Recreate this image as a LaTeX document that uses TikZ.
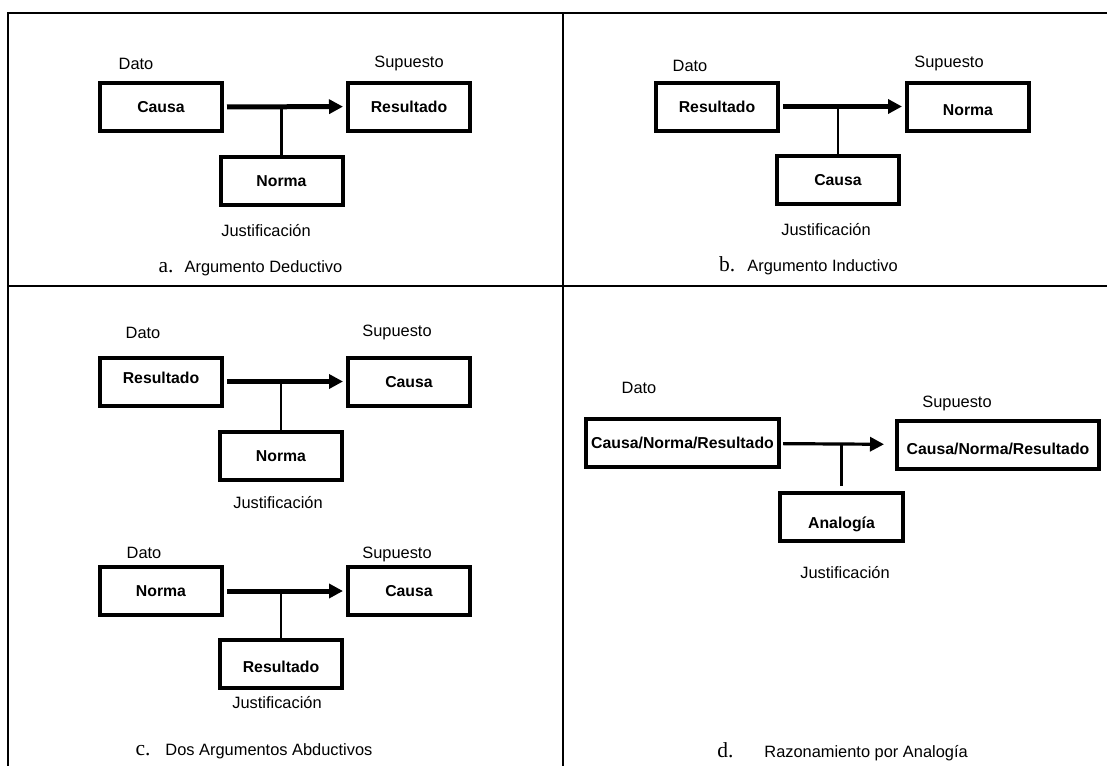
\documentclass[tikz,border=0pt]{standalone}
\usepackage{fontspec}
\setmainfont{Liberation Sans}
\newfontfamily\capserif{Liberation Serif}
\usetikzlibrary{arrows.meta}

\begin{document}
\begin{tikzpicture}[x=1pt, y=-1pt,
  box/.style={draw, rectangle, line width=4pt, minimum width=122pt, minimum height=48pt,
    inner sep=2pt, text height=11.3pt, text depth=0pt, font=\fontsize{15.8}{18}\selectfont\bfseries},
  lbl/.style={inner sep=0pt, font=\fontsize{16.4}{19}\selectfont},
  flow/.style={line width=5pt, -{Triangle[length=14pt, width=14pt]}, shorten <=3pt, shorten >=3pt},
  link/.style={line width=2.8pt},
  frame/.style={line width=2pt}]

\useasboundingbox (0,0) rectangle (1107,766);

% frame
\draw[frame] (1107,12.5) -- (7.5,12.5) -- (7.5,766);
\draw[frame] (563,12.5) -- (563,766);
\draw[frame] (7.5,286) -- (1107,286);

% a. deductivo
\begin{scope}
  \node[box] (blockA0) at (161.0, 107.0) {Causa\hspace{27pt}};
  \node[box] (blockA1) at (409.0, 106.5) {Resultado\hspace{9pt}};
  \node[box] (blockA2) at (281.5, 180.5) {Norma\hspace{17pt}};

  \node[lbl] (datoA) at (136, 64) {Dato};
  \node[lbl] (supA)  at (409, 63) {Supuesto};
  \node[lbl] (justA) at (266, 231) {Justificación};
  \node[lbl] (capA)  at (250.5, 268) {{\capserif\fontsize{21.5}{24}\selectfont a.}\hspace{11pt}Argumento Deductivo};

  \path[flow] (blockA0) edge (blockA1);
  \draw[link] (blockA2) -- (blockA2 |- blockA0);
\end{scope}

% b. inductivo
\begin{scope}
  \node[box] (blockB0) at (717.0, 106.5) {Resultado\hspace{12pt}};
  \node[box, text height=18.3pt] (blockB1) at (968.0, 106.5) {Norma\hspace{22pt}};
  \node[box] (blockB2) at (838.0, 179.5) {Causa\hspace{14pt}};

  \node[lbl] (datoB) at (690, 66) {Dato};
  \node[lbl] (supB)  at (949, 63) {Supuesto};
  \node[lbl] (justB) at (826, 230) {Justificación};
  \node[lbl] (capB)  at (808.5, 266) {{\capserif\fontsize{21.5}{24}\selectfont b.}\hspace{12pt}Argumento Inductivo};

  \path[flow] (blockB0) edge (blockB1);
  \draw[link] (blockB2) -- (blockB2 |- blockB0);
\end{scope}

% c. abductivos
\begin{scope}
  \node[box, text depth=7pt] (blockC0) at (161.0, 381.5) {Resultado\hspace{6pt}};
  \node[box] (blockC1) at (409.0, 381.5) {Causa\hspace{18pt}};
  \node[box] (blockC2) at (281.0, 456.0) {Norma\hspace{12pt}};
  \node[box] (blockC3) at (161.0, 591.0) {Norma\hspace{34pt}};
  \node[box] (blockC4) at (409.0, 591.0) {Causa\hspace{24pt}};
  \node[box, text height=18.3pt] (blockC5) at (281.0, 663.5) {Resultado\hspace{16pt}};

  \node[lbl] (datoC0) at (143, 333) {Dato};
  \node[lbl] (supC0)  at (397, 332) {Supuesto};
  \node[lbl] (justC0) at (278, 503) {Justificación};
  \node[lbl] (datoC1) at (144, 553) {Dato};
  \node[lbl] (supC1)  at (397, 554) {Supuesto};
  \node[lbl] (justC1) at (277, 703) {Justificación};
  \node[lbl] (capC)   at (254.0, 751) {{\capserif\fontsize{21.5}{24}\selectfont c.}\hspace{15pt}Dos Argumentos Abductivos};

  \path[flow] (blockC0) edge (blockC1);
  \path[flow] (blockC3) edge (blockC4);
  \draw[link] (blockC2) -- (blockC2 |- blockC0);
  \draw[link] (blockC5) -- (blockC5 |- blockC3);
\end{scope}

% d. analogia
\begin{scope}[every node/.append style={font=\fontsize{15.2}{18}\selectfont\bfseries}]
  \node[box, minimum width=193pt, text height=10.9pt] (blockD0) at (682.5, 443.0) {Causa/Norma/Resultado};
  \node[box, minimum width=202pt, text height=18.9pt] (blockD1) at (998.0, 445.0) {Causa/Norma/Resultado\hspace{8pt}};
  \node[box, minimum width=123pt, text height=22.9pt] (blockD2) at (841.5, 517.0) {Analogía\hspace{17pt}};

  \node[lbl] (datoD) at (639, 388) {Dato};
  \node[lbl] (supD)  at (957, 403) {Supuesto};
  \node[lbl] (justD) at (845, 573) {Justificación};
  \node[lbl] (capD)  at (842.5, 752) {{\capserif\fontsize{21.5}{24}\selectfont d.}\hspace{31pt}Razonamiento por Analogía};

  \path[flow, line width=3.2pt, shorten <=2pt, shorten >=11pt] (blockD0) edge (blockD1);
  \draw[link, line width=3pt, shorten <=5pt] (blockD2) -- (blockD2 |- blockD0);
\end{scope}

\end{tikzpicture}
\end{document}
